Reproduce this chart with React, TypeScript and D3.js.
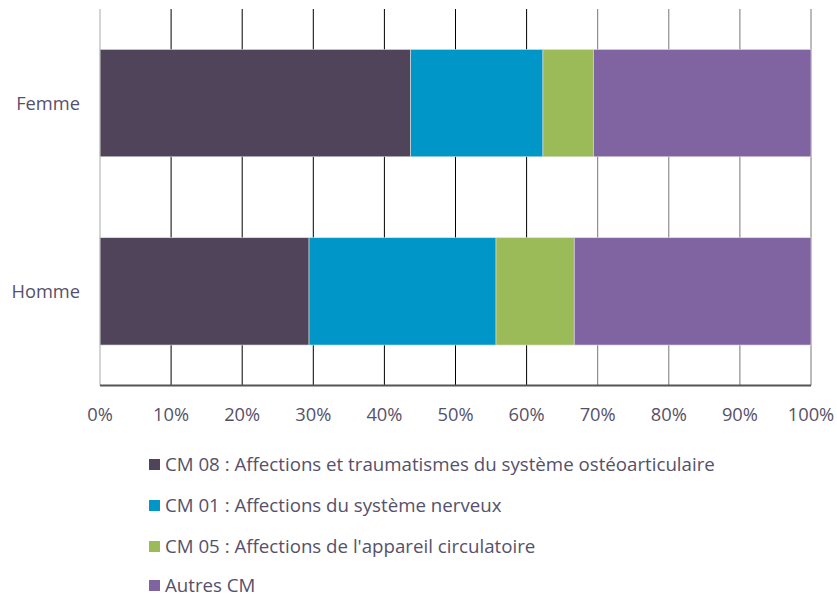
import React from "react";
import * as d3 from "d3";

const categories = ["Femme", "Homme"];
const seriesNames = [
  "CM 08 : Affections et traumatismes du système ostéoarticulaire",
  "CM 01 : Affections du système nerveux",
  "CM 05 : Affections de l'appareil circulatoire",
  "Autres CM",
];
const femmeValues = [43.7, 18.6, 7.1, 30.6];
const hommeValues = [29.4, 26.3, 11.0, 33.3];
const tickValues = [0, 10, 20, 30, 40, 50, 60, 70, 80, 90, 100];
const colors = ["#4F4459", "#0096C8", "#9BBB59", "#8064A2"];

const W = 837;
const H = 597;
const FONT = "'Open Sans', Lato, sans-serif";
const TEXT = "#56516A";

export default function App() {
  const x = d3.scaleLinear().domain([0, 100]).range([100, 811]);
  const y = d3.scaleBand().domain(categories).range([9, 385.5]).paddingInner(0.43).paddingOuter(0.215);
  const rows = [femmeValues, hommeValues];
  const stackData = categories.map((c, i) => {
    const o: any = { cat: c };
    seriesNames.forEach((s, j) => (o[s] = rows[i][j]));
    return o;
  });
  const stacked = d3.stack().keys(seriesNames)(stackData);
  const legendBase = [471, 512, 553, 592];

  return (
    <svg width={W} height={H} style={{ position: "absolute", left: 0, top: 0, background: "#fff" }} fontFamily={FONT}>
      {tickValues.slice(1).map((t) => (
        <line key={t} x1={x(t)} x2={x(t)} y1={9} y2={385.5} stroke={t >= 70 ? "#777" : "#000"} strokeWidth={1} />
      ))}
      {stacked.map((layer, j) =>
        layer.map((d, i) => (
          <rect
            key={j + "-" + i}
            x={x(d[0])}
            y={y(categories[i])}
            width={x(d[1]) - x(d[0])}
            height={y.bandwidth()}
            fill={colors[j]}
            stroke="#ddd"
            strokeWidth={0.6}
          />
        ))
      )}
      <line x1={100} x2={100} y1={9} y2={385.5} stroke="#aaa" strokeWidth={1} />
      <line x1={100} x2={811} y1={385.5} y2={385.5} stroke="#555" strokeWidth={1.8} />
      {tickValues.map((t) => (
        <text key={t} x={x(t)} y={420.5} textAnchor="middle" fontSize={18.3} fill={TEXT}>
          {t}%
        </text>
      ))}
      {categories.map((c) => (
        <text key={c} x={80} y={(y(c) as number) + y.bandwidth() / 2 + 7} textAnchor="end" fontSize={18.3} fill={TEXT}>
          {c}
        </text>
      ))}
      {seriesNames.map((s, j) => (
        <g key={s}>
          <rect x={149} y={legendBase[j] - 12} width={11} height={11} fill={colors[j]} />
          <text x={165} y={legendBase[j]} fontSize={18.7} fill={TEXT}>
            {s}
          </text>
        </g>
      ))}
    </svg>
  );
}
